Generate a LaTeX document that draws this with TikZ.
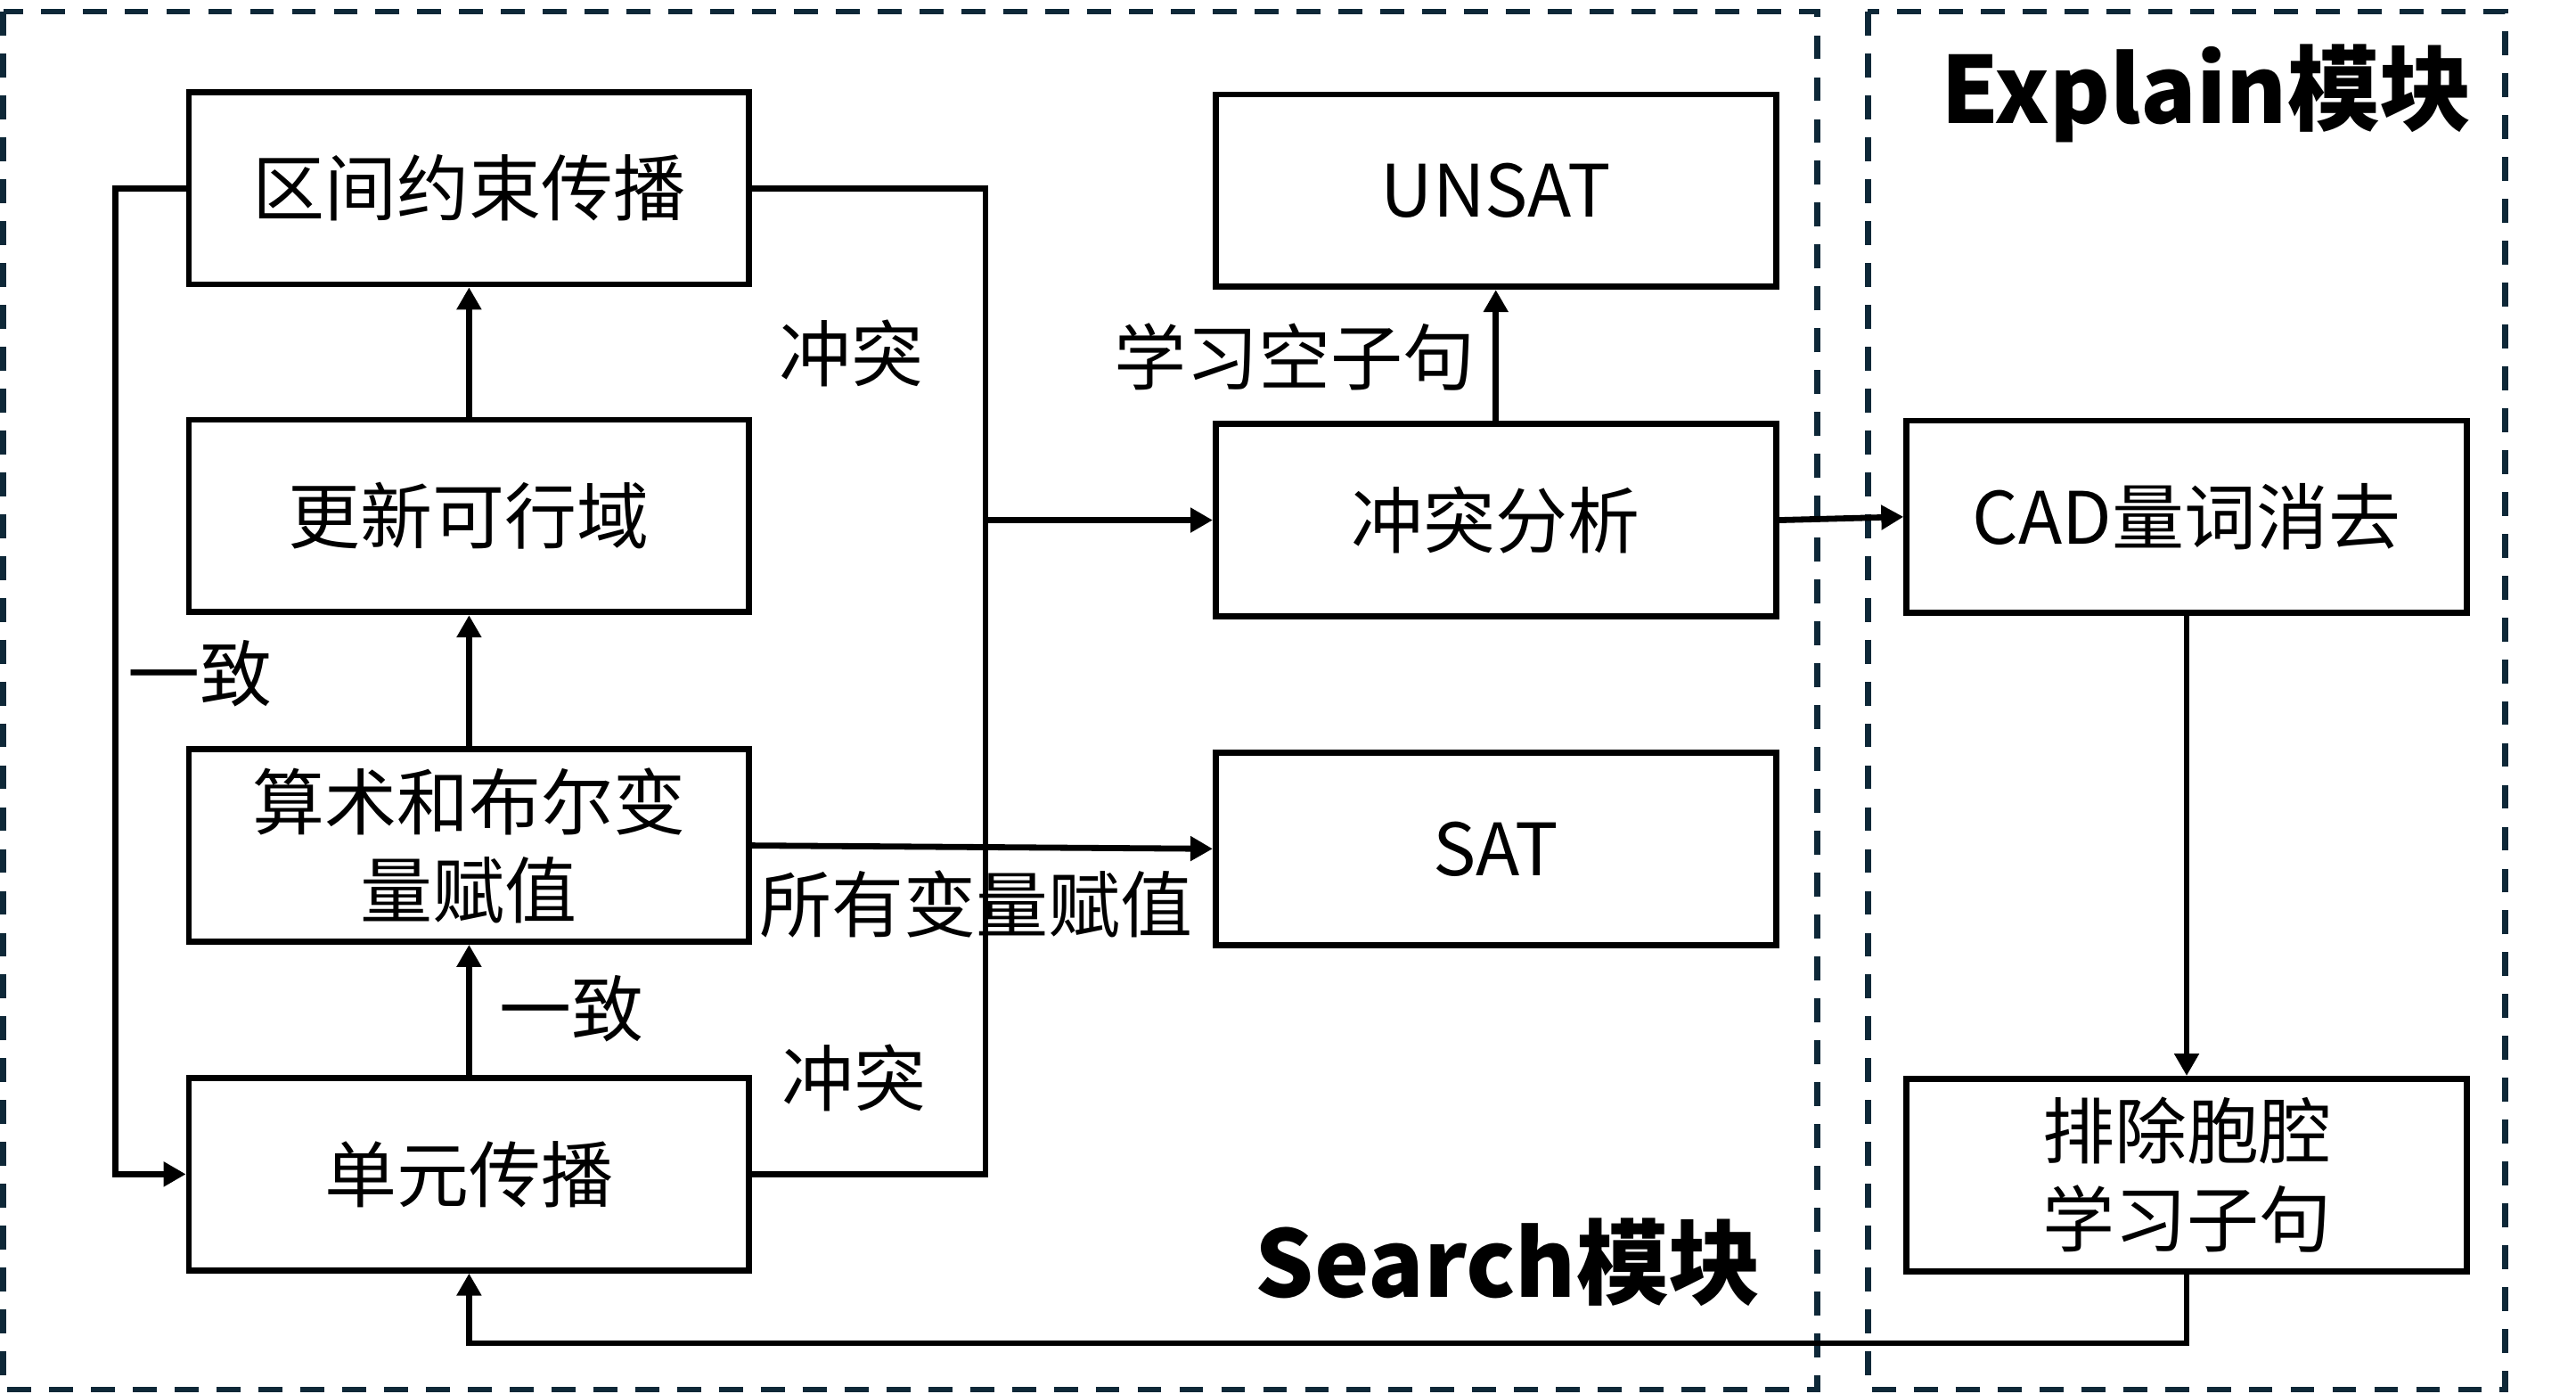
\documentclass[tikz,border=0pt]{standalone}
\usepackage{fontspec}
\setmainfont{Noto Sans CJK SC}
\usetikzlibrary{arrows.meta}
\definecolor{dashnavy}{RGB}{14,40,56}
\tikzset{
  blk/.style={draw, line width=2.1pt, minimum width=6.82cm, minimum height=2.34cm,
    inner sep=0pt, align=center, font=\fontsize{25}{30.7}\selectfont},
  lbl/.style={font=\fontsize{25}{30.7}\selectfont, inner sep=0pt},
  ttl/.style={font=\fontsize{32}{38}\selectfont\bfseries, inner sep=0pt},
  modbox/.style={draw=dashnavy, line width=2.1pt, dash pattern=on 8.3pt off 6.2pt},
  link/.style={line width=2.1pt, -{Triangle[length=7.7pt,width=8.2pt]}},
}
\begin{document}
\begin{tikzpicture}[x=0.2mm, y=-0.2mm]
  \useasboundingbox (0,0) rectangle (1568,848);
  % the two modules
  \draw[modbox] (2,7) rectangle (1106,845.5);
  \draw[modbox] (1137,7) rectangle (1525,845.5);
  \node[ttl] (search) at (918,768) {Search模块};
  \node[ttl] (explain) at (1343,57) {Explain模块};
  % search column
  \draw
    (285.5,114.5) node[blk] (icp) {区间约束传播}
    (285.5,314) node[blk] (upd) {更新可行域}
    (285.5,514.5) node[blk] (asg) {算术和布尔变\\量赋值}
    (285.5,714.5) node[blk] (unit) {单元传播}
    (910.5,116) node[blk] (unsat) {UNSAT}
    (910.5,316.5) node[blk] (conf) {冲突分析}
    (910.5,516.5) node[blk] (sat) {SAT};
  % explain column
  \draw
    (1331,314.5) node[blk] (cad) {CAD量词消去}
    (1331,715) node[blk] (cell) {排除胞腔\\学习子句};
  % labels
  \node[lbl] (c1) at (518,215) {冲突};
  \node[lbl] (c2) at (520,656) {冲突};
  \node[lbl] (y1) at (122,410) {一致};
  \node[lbl] (y2) at (348,614) {一致};
  \node[lbl] (lrn) at (788,217) {学习空子句};
  \node[lbl] (all) at (594,550) {所有变量赋值};
  \begin{scope}[link]
    \draw (upd) to (icp);
    \draw (asg) to (upd);
    \draw (unit) to (asg);
    \draw (icp.west) -- ++(-43,0) |- (unit.west);
    \draw (asg.east) to (sat.west);
    \draw (conf) to (unsat);
    \draw (conf.east) to (cad.west);
    \draw (cad) to (cell);
    \draw (cell.south) -- ++(0,42) -| (unit.south);
  \end{scope}
  \path (unit.east) ++(142,0) coordinate (rt);
  \draw[line width=2.1pt] (unit.east) -- (rt) |- (icp.east);
  \draw[link] (rt |- conf.west) -- (conf.west);
\end{tikzpicture}
\end{document}
